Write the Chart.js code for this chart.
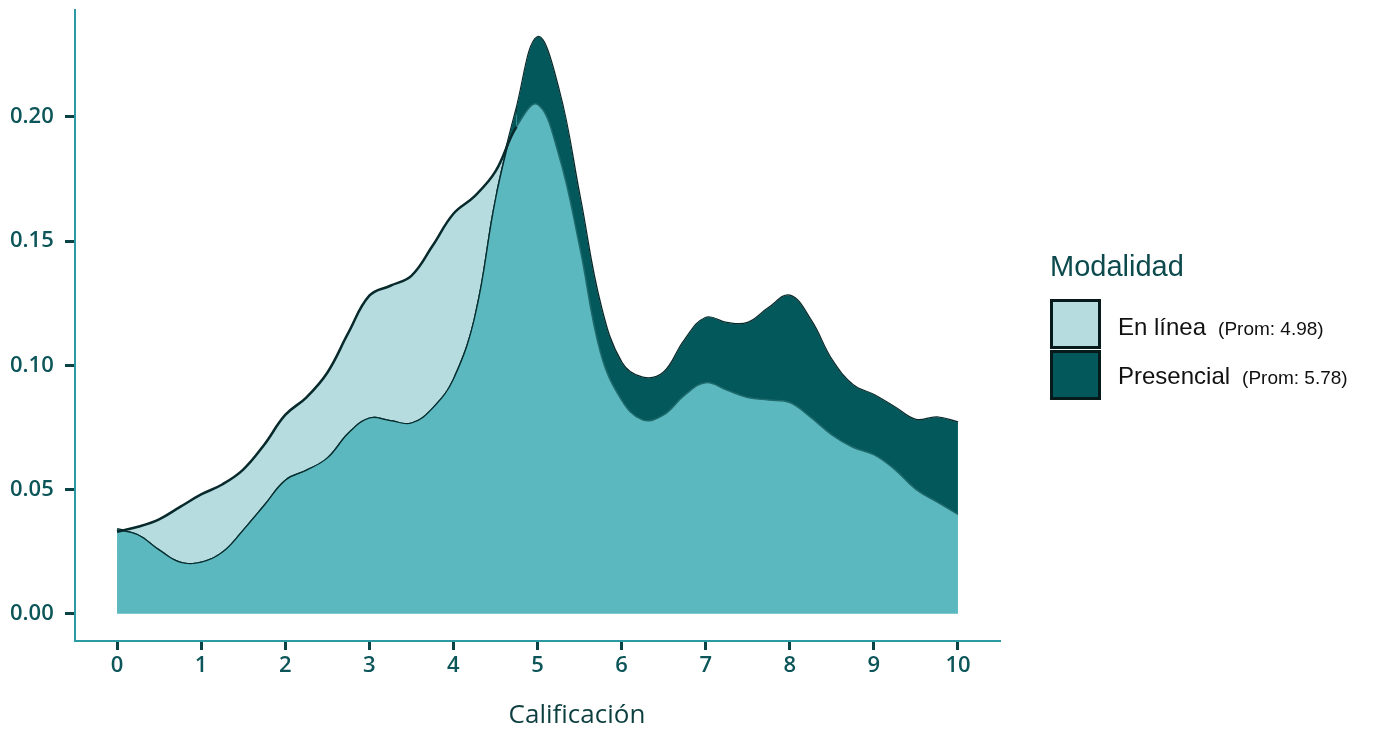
<!DOCTYPE html>
<html>
<head>
<meta charset="utf-8">
<script src="https://cdn.jsdelivr.net/npm/chart.js@4"></script>
<style>
  html, body { margin: 0; padding: 0; background: #fff; }
  #wrap { position: relative; width: 1397px; height: 730px; }
  #xtitle { position: absolute; left: 477px; width: 200px; top: 698px; line-height: 30px; text-align: center;
    font-family: "Open Sans", sans-serif; font-size: 26px; color: #0d3e40; }
  #legend { position: absolute; left: 1050px; top: 250px; font-family: "Liberation Sans", Arial, sans-serif; }
  .ttl { position: absolute; left: 0; top: 0; font-size: 29px; color: #0c4a4d; white-space: nowrap; }
  .box { position: absolute; left: 0; width: 45px; height: 44px; border: 3px solid #061a1b; }
  .lab { position: absolute; left: 68px; font-size: 24px; color: #111; white-space: nowrap; }
  .lab span { font-size: 19px; margin-left: 12px; }
</style>
</head>
<body>
<div id="wrap">
  <canvas id="c" width="1397" height="730"></canvas>
  <div id="xtitle">Calificación</div>
  <div id="legend">
    <div class="ttl">Modalidad</div>
    <div class="box" style="top:49px;background:#b6dcdf"></div>
    <div class="box" style="top:100px;background:#03585b"></div>
    <div class="lab" style="top:63px">En línea<span>(Prom: 4.98)</span></div>
    <div class="lab" style="top:112px">Presencial<span>(Prom: 5.78)</span></div>
  </div>
</div>
<script>
// x positions of the density estimate (Calificación)
const grades = [0, 0.25, 0.5, 0.75, 1, 1.25, 1.5, 1.75, 2, 2.25, 2.5, 2.75, 3, 3.25, 3.5, 3.75,
  4, 4.25, 4.5, 4.75, 5, 5.25, 5.5, 5.75, 6, 6.25, 6.5, 6.75, 7, 7.25, 7.5, 7.75,
  8, 8.25, 8.5, 8.75, 9, 9.25, 9.5, 9.75, 10];

const enLinea = [0.033, 0.035, 0.038, 0.043, 0.048, 0.052, 0.058, 0.068, 0.080, 0.087, 0.097, 0.113,
  0.128, 0.132, 0.136, 0.148, 0.161, 0.168, 0.178, 0.196, 0.205, 0.185, 0.148, 0.105,
  0.086, 0.078, 0.080, 0.088, 0.093, 0.090, 0.087, 0.086, 0.085, 0.079, 0.072, 0.067,
  0.064, 0.058, 0.050, 0.045, 0.040];

const presencial = [0.034, 0.032, 0.026, 0.021, 0.021, 0.025, 0.034, 0.044, 0.054, 0.058, 0.063, 0.073,
  0.079, 0.078, 0.077, 0.083, 0.095, 0.120, 0.168, 0.203, 0.232, 0.211, 0.168, 0.124,
  0.101, 0.095, 0.097, 0.110, 0.119, 0.117, 0.117, 0.123, 0.128, 0.118, 0.102, 0.092,
  0.088, 0.083, 0.078, 0.079, 0.077];

const xTicks = [0, 1, 2, 3, 4, 5, 6, 7, 8, 9, 10];
const yTicks = [0, 0.05, 0.10, 0.15, 0.20];

const LIGHT = '#b6dcdf';
const MID = '#5bb8be';
const DARK = '#03585b';
const LINE = '#082a2c';
const TEAL_TXT = '#0c5559';

const toPts = arr => arr.map((v, i) => ({ x: grades[i], y: v }));

new Chart(document.getElementById('c'), {
  type: 'line',
  data: {
    datasets: [
      {
        label: 'Presencial',
        data: toPts(presencial),
        fill: { target: 'origin', above: MID },
        backgroundColor: MID,
        borderColor: LINE,
        borderWidth: 2.5,
        tension: 0.4,
        pointRadius: 0,
        order: 2
      },
      {
        label: 'En línea',
        data: toPts(enLinea),
        fill: { target: 0, above: LIGHT, below: DARK },
        backgroundColor: LIGHT,
        borderColor: LINE,
        borderWidth: 2.5,
        tension: 0.4,
        pointRadius: 0,
        order: 1,
        segment: {
          borderColor: c => enLinea[c.p0DataIndex] < presencial[c.p0DataIndex] - 0.002 ? '#1f6a6d' : LINE,
          borderWidth: c => enLinea[c.p0DataIndex] < presencial[c.p0DataIndex] - 0.002 ? 1.5 : 2.5
        }
      }
    ]
  },
  options: {
    responsive: false,
    animation: false,
    layout: { padding: { left: 10, top: 10, right: 397, bottom: 0 } },
    plugins: { legend: { display: false }, tooltip: { enabled: false } },
    scales: {
      x: {
        type: 'linear',
        min: -0.5,
        max: 10.5,
        afterFit: s => { s.height = 89; },
        afterBuildTicks: s => { s.ticks = xTicks.map(v => ({ value: v })); },
        grid: { display: true, drawOnChartArea: false, drawTicks: true, tickLength: 9, tickWidth: 3, tickColor: '#0b4245' },
        border: { display: true, color: '#2c9aa2', width: 2 },
        ticks: { color: TEAL_TXT, padding: 3, font: { family: 'Open Sans', size: 22, weight: '600' }, maxRotation: 0 }
      },
      y: {
        min: -0.011,
        max: 0.243,
        afterFit: s => { s.width = 65; },
        afterBuildTicks: s => { s.ticks = yTicks.map(v => ({ value: v })); },
        grid: { display: true, drawOnChartArea: false, drawTicks: true, tickLength: 10, tickWidth: 3, tickColor: '#0b4245' },
        border: { display: true, color: '#2c9aa2', width: 2 },
        ticks: {
          color: TEAL_TXT, padding: 0, crossAlign: 'far',
          font: { family: 'Open Sans', size: 22, weight: '600', lineHeight: 0.8 },
          callback: v => v.toFixed(2)
        }
      }
    }
  }
});
</script>
</body>
</html>
